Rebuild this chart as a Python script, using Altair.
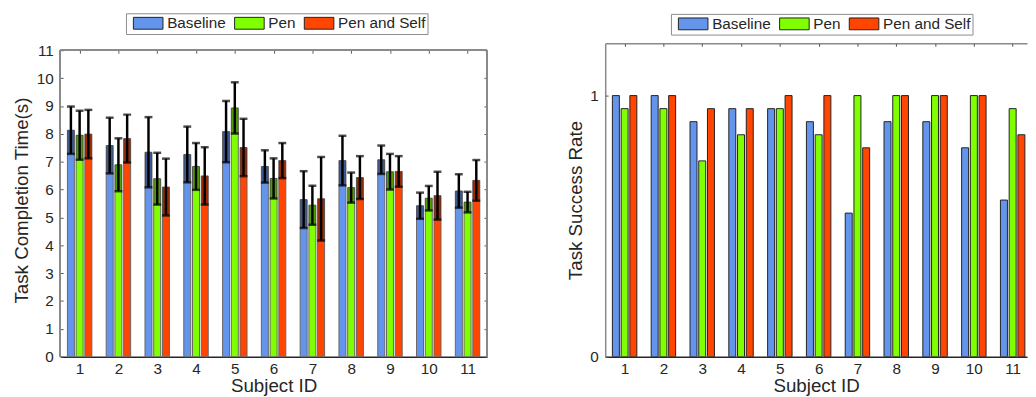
import altair as alt
import pandas as pd

# ---------------- data ----------------
subjects = list(range(1, 12))
groups = ["Baseline", "Pen", "Pen and Self"]
colors = ["#6495ED", "#7FFF00", "#FF4500"]

time_baseline = [8.13, 7.58, 7.34, 7.26, 8.08, 6.83, 5.64, 7.04, 7.07, 5.42, 5.95]
time_pen = [7.95, 6.89, 6.39, 6.83, 8.93, 6.40, 5.44, 6.07, 6.64, 5.69, 5.55]
time_pen_self = [7.99, 7.83, 6.09, 6.49, 7.51, 7.04, 5.67, 6.43, 6.65, 5.78, 6.33]

err_baseline = [0.85, 1.00, 1.26, 1.00, 1.10, 0.58, 1.02, 0.89, 0.51, 0.47, 0.60]
err_pen = [0.88, 0.95, 0.93, 0.84, 0.92, 0.72, 0.70, 0.54, 0.64, 0.44, 0.37]
err_pen_self = [0.87, 0.86, 1.02, 1.03, 1.03, 0.63, 1.50, 0.77, 0.55, 0.86, 0.73]

succ_baseline = [1.00, 1.00, 0.90, 0.95, 0.95, 0.90, 0.55, 0.90, 0.90, 0.80, 0.60]
succ_pen = [0.95, 0.95, 0.75, 0.85, 0.95, 0.85, 1.00, 1.00, 1.00, 1.00, 0.95]
succ_pen_self = [1.00, 1.00, 0.95, 0.95, 1.00, 1.00, 0.80, 1.00, 1.00, 1.00, 0.85]

time_ticks = list(range(0, 12))
succ_ticks = [0, 1]


def long_df(series, errs=None):
    rows = []
    for k, (g, vals) in enumerate(zip(groups, series)):
        for i, s in enumerate(subjects):
            r = {"subject": s, "group": g, "k": k, "value": vals[i]}
            if errs is not None:
                r["err"] = errs[k][i]
            rows.append(r)
    return pd.DataFrame(rows)


time_df = long_df([time_baseline, time_pen, time_pen_self],
                  [err_baseline, err_pen, err_pen_self])
succ_df = long_df([succ_baseline, succ_pen, succ_pen_self])

# ---------------- style ----------------
FONT = "Liberation Sans"
TXT = "#262626"
FRAME = "#8a8a8a"
FS_TICK = 15.5
FS_TITLE = 19
FS_LEG = 15.5
GAP = 0.225
HALF = 0.09
H = 318                      # plot height of both panels
TIME_MAX = 11 * 318 / 311    # left frame top (11) sits 7px below panel top


def tick_axis(orient, values, offset=-3):
    return alt.Axis(orient=orient, offset=offset, domain=False, labels=False,
                    ticks=True, tickSize=3, tickColor="#555555", tickWidth=1,
                    values=values, title=None, grid=False)


def main_x_axis():
    return alt.Axis(orient="bottom", values=subjects, format="d", ticks=False,
                    tickSize=0, labelPadding=5, labelFontSize=FS_TICK,
                    labelColor=TXT, labelFont=FONT, labelFlush=False,
                    domainColor=TXT, domainWidth=1.5, title="Subject ID",
                    titleFont=FONT, titleFontSize=FS_TITLE,
                    titleFontWeight="normal", titleColor=TXT,
                    titlePadding=0, grid=False)


def main_y_axis(values, title, tpad, domain):
    return alt.Axis(orient="left", values=values, format="d", ticks=False,
                    tickSize=0, labelPadding=7, labelFontSize=FS_TICK,
                    labelColor=TXT, labelFont=FONT, labelFlush=False,
                    domain=domain, domainColor=FRAME, domainWidth=1.5,
                    title=title, titleFont=FONT, titleFontSize=FS_TITLE,
                    titleFontWeight="normal", titleColor=TXT,
                    titlePadding=tpad, grid=False)


def legend(lx, ly):
    return alt.Legend(title=None, orient="none", legendX=lx, legendY=ly,
                      direction="horizontal",
                      symbolType="M-2.5,-1H2.5V1H-2.5Z", symbolSize=144,
                      symbolOffset=12.8, labelOffset=11.5,
                      symbolStrokeColor="#222222", symbolStrokeWidth=1,
                      symbolOpacity=1, labelFontSize=FS_LEG, labelFont=FONT,
                      labelColor=TXT, strokeColor=FRAME, fillColor="white",
                      padding=2, columnPadding=2.7, cornerRadius=0)


color_scale = alt.Scale(domain=groups, range=colors)

# ---------------- left chart: completion time ----------------
xs_left = alt.Scale(domain=[0.5, 11.5], nice=False, zero=False)
ys_left = alt.Scale(domain=[0, TIME_MAX], nice=False)

base_l = alt.Chart(time_df).transform_calculate(
    xc=f"datum.subject + (datum.k - 1) * {GAP}",
    xs=f"datum.subject + (datum.k - 1) * {GAP} - {HALF}",
    xe=f"datum.subject + (datum.k - 1) * {GAP} + {HALF}",
    lo="datum.value - datum.err",
    hi="datum.value + datum.err",
)

bars_l = base_l.mark_bar(stroke="#666666", strokeWidth=1).encode(
    x=alt.X("xs:Q", scale=xs_left, axis=main_x_axis()),
    x2="xe:Q",
    y=alt.Y("value:Q", scale=ys_left,
            axis=main_y_axis(time_ticks, "Task Completion Time(s)", 5, False)),
    y2=alt.datum(0),
    color=alt.Color("group:N", scale=color_scale, legend=legend(66.7, -30.5)),
)

shade_l = base_l.mark_bar(color="black", opacity=0.38).encode(
    x=alt.X("xs:Q", scale=xs_left, axis=tick_axis("top", subjects, -10)),
    x2="xe:Q",
    y=alt.Y("lo:Q", scale=ys_left, axis=tick_axis("left", time_ticks)),
    y2="value:Q",
)

rule_l = base_l.mark_rule(color="black", strokeWidth=2.5).encode(
    x=alt.X("xc:Q", scale=xs_left, axis=None),
    y=alt.Y("lo:Q", scale=ys_left, axis=tick_axis("right", time_ticks)),
    y2="hi:Q",
)

caps_l = base_l.transform_fold(["lo", "hi"], as_=["end", "ev"]).mark_tick(
    orient="horizontal", color="black", size=8, thickness=2.5
).encode(
    x=alt.X("xc:Q", scale=xs_left, axis=None),
    y=alt.Y("ev:Q", scale=ys_left, axis=None),
)

frame = alt.Chart(time_df)
frame_top = frame.mark_rule(color=FRAME, strokeWidth=1.5).encode(
    x=alt.X(datum=0.5, scale=xs_left, axis=None),
    x2=alt.X2(datum=11.5),
    y=alt.Y(datum=11, scale=ys_left, axis=None),
)
frame_left = frame.mark_rule(color=FRAME, strokeWidth=1.5).encode(
    x=alt.X(datum=0.5, scale=xs_left, axis=None),
    y=alt.Y(datum=0, scale=ys_left, axis=None),
    y2=alt.Y2(datum=11),
)
frame_right = frame.mark_rule(color=FRAME, strokeWidth=1.5).encode(
    x=alt.X(datum=11.5, scale=xs_left, axis=None),
    y=alt.Y(datum=0, scale=ys_left, axis=None),
    y2=alt.Y2(datum=11),
)

left = alt.layer(frame_top, frame_left, frame_right,
                 bars_l, shade_l, rule_l, caps_l).resolve_axis(
    x="independent", y="independent"
).properties(width=433, height=H,
             view=alt.ViewBackground(stroke="transparent"))

# ---------------- right chart: success rate ----------------
xs_right = alt.Scale(domain=[0.5, 11.37], nice=False, zero=False)
ys_right = alt.Scale(domain=[0, 1.2], nice=False)

base_r = alt.Chart(succ_df).transform_calculate(
    xs=f"datum.subject + (datum.k - 1) * {GAP} - {HALF}",
    xe=f"datum.subject + (datum.k - 1) * {GAP} + {HALF}",
)

bars_r = base_r.mark_bar(stroke="#222222", strokeWidth=1, clip=True).encode(
    x=alt.X("xs:Q", scale=xs_right, axis=main_x_axis()),
    x2="xe:Q",
    y=alt.Y("value:Q", scale=ys_right,
            axis=main_y_axis(succ_ticks, "Task Success Rate", 4, True)),
    y2=alt.datum(0),
    color=alt.Color("group:N", scale=color_scale, legend=legend(66.7, -29.9)),
)

top_frame_r = base_r.mark_bar(opacity=0, clip=True).encode(
    x=alt.X("xs:Q", scale=xs_right,
            axis=alt.Axis(orient="top", domain=True, domainColor=FRAME,
                          domainWidth=1.5, labels=False, ticks=False,
                          tickSize=0, title=None, grid=False,
                          values=subjects)),
    x2="xe:Q",
    y=alt.Y("value:Q", scale=ys_right, axis=tick_axis("left", succ_ticks)),
    y2=alt.datum(0),
)

top_ticks_r = base_r.mark_bar(opacity=0, clip=True).encode(
    x=alt.X("xs:Q", scale=xs_right, axis=tick_axis("top", subjects)),
    x2="xe:Q",
    y=alt.Y("value:Q", scale=ys_right, axis=None),
    y2=alt.datum(0),
)

right = alt.layer(bars_r, top_frame_r, top_ticks_r).resolve_axis(
    x="independent", y="independent"
).properties(width=428, height=H,
             view=alt.ViewBackground(stroke="transparent"))

chart = alt.hconcat(left, right, spacing=78).resolve_scale(
    color="independent"
).resolve_legend(color="independent").properties(
    padding={"left": 4, "top": 1, "right": 0, "bottom": 0}
).configure(font=FONT, background="white")

chart.save("out.html", embed_options={"renderer": "svg", "actions": False})
